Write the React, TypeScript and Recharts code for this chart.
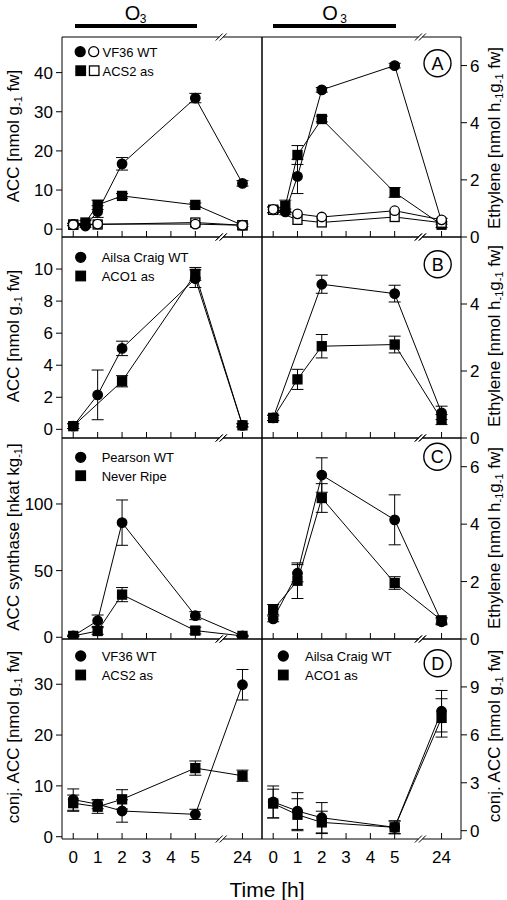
import React from 'react';
import { LineChart, Line, XAxis, YAxis, ErrorBar, ReferenceLine, ReferenceDot } from 'recharts';

const FONT = '"Liberation Sans", Arial, Helvetica, sans-serif';

// ---------- time axis ----------
const TIME_TICKS = [0, 1, 2, 3, 4, 5, 24];
const X_MIN = -0.46;
const X_MAX = 7.73;
const POS24 = 6.93; // position of the 24 h point after the axis break
const BREAK = 6.08;
const xpos = (t: number) => (t === 24 ? POS24 : t);

// ---------- Panel A : ACC (left) ----------
const T_A = [0, 0.5, 1, 2, 5, 24];
const T_A_OPEN_L = [0, 1, 5, 24];
const A_ACC_WT = [1.2, 0.8, 4.5, 16.7, 33.5, 11.7];
const A_ACC_WT_ERR = [0.3, 0.3, 1.5, 1.6, 1.2, 0.7];
const A_ACC_ACS2 = [1.2, 1.7, 6.2, 8.5, 6.2, 1.0];
const A_ACC_ACS2_ERR = [0.3, 0.5, 1.2, 0.6, 0.5, 0.3];
const A_ACC_WT_CTRL = [1.1, 1.3, 1.3, 1.0];
const A_ACC_ACS2_CTRL = [1.1, 1.2, 1.7, 1.0];

// ---------- Panel A : Ethylene (right) ----------
const T_A_OPEN_R = [0, 1, 2, 5, 24];
const A_ETH_WT = [0.95, 0.88, 2.12, 5.15, 6.0, 0.55];
const A_ETH_WT_ERR = [0.1, 0.1, 0.6, 0.08, 0.08, 0.1];
const A_ETH_ACS2 = [0.95, 1.09, 2.87, 4.13, 1.56, 0.43];
const A_ETH_ACS2_ERR = [0.1, 0.2, 0.33, 0.1, 0.17, 0.1];
const A_ETH_WT_CTRL = [0.97, 0.81, 0.7, 0.92, 0.6];
const A_ETH_ACS2_CTRL = [0.95, 0.6, 0.51, 0.7, 0.5];

// ---------- Panel B ----------
const T_B_L_WT = [0, 1, 2, 5, 24];
const B_ACC_WT = [0.2, 2.15, 5.05, 9.4, 0.25];
const B_ACC_WT_ERR = [0.15, 1.55, 0.45, 0.55, 0.1];
const T_B_L_ACO = [0, 2, 5, 24];
const B_ACC_ACO1 = [0.2, 3.0, 9.7, 0.25];
const B_ACC_ACO1_ERR = [0.15, 0.35, 0.4, 0.1];
const T_B_R_WT = [0, 2, 5, 24];
const B_ETH_WT = [0.6, 4.59, 4.31, 0.75];
const B_ETH_WT_ERR = [0.08, 0.27, 0.25, 0.2];
const T_B_R_ACO = [0, 1, 2, 5, 24];
const B_ETH_ACO1 = [0.6, 1.75, 2.74, 2.79, 0.55];
const B_ETH_ACO1_ERR = [0.08, 0.3, 0.35, 0.25, 0.15];

// ---------- Panel C ----------
const T_C = [0, 1, 2, 5, 24];
const C_ACS_WT = [1, 12.4, 86, 16.2, 1];
const C_ACS_WT_ERR = [0.5, 4.3, 17, 3, 0.5];
const C_ACS_NR = [1, 4.7, 32, 5, 1];
const C_ACS_NR_ERR = [0.5, 2.5, 5.3, 2.5, 0.5];
const C_ETH_WT = [0.7, 2.29, 5.71, 4.15, 0.6];
const C_ETH_WT_ERR = [0.1, 0.3, 0.6, 0.87, 0.1];
const C_ETH_NR = [1.02, 2.03, 4.91, 1.95, 0.65];
const C_ETH_NR_ERR = [0.18, 0.62, 0.5, 0.22, 0.1];

// ---------- Panel D ----------
const T_D = [0, 1, 2, 5, 24];
const D_CONJ_WT = [7.3, 6.4, 5.06, 4.4, 29.9];
const D_CONJ_WT_ERR = [2.1, 0.9, 2.2, 1.0, 3.0];
const D_CONJ_ACS2 = [6.6, 5.9, 7.35, 13.5, 12.0];
const D_CONJ_ACS2_ERR = [1.6, 1.3, 1.9, 1.4, 1.1];
const D_CONJ_AC_WT = [1.8, 1.23, 0.81, 0.21, 7.48];
const D_CONJ_AC_WT_ERR = [1.0, 1.15, 0.95, 0.4, 1.3];
const D_CONJ_ACO1 = [1.7, 1.0, 0.52, 0.21, 7.06];
const D_CONJ_ACO1_ERR = [0.9, 1.0, 0.7, 0.4, 1.2];

// ---------- y axis ticks ----------
const A_L_TICKS = [0, 10, 20, 30, 40];
const A_R_TICKS = [0, 2, 4, 6];
const B_L_TICKS = [0, 2, 4, 6, 8, 10];
const B_R_TICKS = [0, 2, 4];
const C_L_TICKS = [0, 50, 100];
const C_R_TICKS = [0, 2, 4, 6];
const D_L_TICKS = [0, 10, 20, 30];
const D_R_TICKS = [0, 3, 6, 9];

type Series = { t: number[]; v: number[]; e?: number[]; shape: 'c' | 's'; filled: boolean };

const toPoints = (s: Series) => s.t.map((t, i) => ({ x: xpos(t), y: s.v[i], err: s.e ? s.e[i] : 0 }));

function Marker({ cx, cy, shape, filled, size = 9.5 }: any) {
  if (cx == null || cy == null || isNaN(cx) || isNaN(cy)) return null;
  const fill = filled ? '#000' : '#fff';
  if (shape === 'c') {
    return <circle cx={cx} cy={cy} r={size / 2} fill={fill} stroke="#000" strokeWidth={1.3} />;
  }
  const s = size - 0.5;
  return <rect x={cx - s / 2} y={cy - s / 2} width={s} height={s} fill={fill} stroke="#000" strokeWidth={1.3} />;
}

const makeXTick = (showLabel: boolean) => (props: any) => {
  const { x, y, payload } = props;
  const label = Math.abs(payload.value - POS24) < 1e-6 ? '24' : String(payload.value);
  return (
    <g>
      <line x1={x} x2={x} y1={y} y2={y - 6} stroke="#000" strokeWidth={1} />
      {showLabel && (
        <text x={x} y={y + 24} textAnchor="middle" fontSize={17} fontFamily={FONT} fill="#000">
          {label}
        </text>
      )}
    </g>
  );
};

const breakShape = (props: any) => {
  const { cx, cy } = props;
  if (cx == null || cy == null) return null;
  return (
    <g>
      <line x1={cx - 6} y1={cy + 3.5} x2={cx + 1} y2={cy - 3.5} stroke="#000" strokeWidth={1} />
      <line x1={cx - 2} y1={cy + 3.5} x2={cx + 5} y2={cy - 3.5} stroke="#000" strokeWidth={1} />
    </g>
  );
};

type PanelProps = {
  side: 'left' | 'right';
  top: number;
  height: number;
  yDomain: [number, number];
  yTicks: number[];
  series: Series[];
  bottom?: boolean;
};

const PAD = 5;
const XH = 30;

function Panel({ side, top, height, yDomain, yTicks, series, bottom }: PanelProps) {
  const isLeft = side === 'left';
  const chartLeft = isLeft ? 0 : 262 - PAD;
  const yW = isLeft ? 40 : 30;
  const plotW = isLeft ? 200 : 199;
  const margin = isLeft
    ? { top: PAD, right: PAD, bottom: 0, left: 22 }
    : { top: PAD, right: 15, bottom: 0, left: PAD };
  const width = margin.left + margin.right + yW + plotW;
  const chartH = PAD + height + XH;
  const [y0, y1] = yDomain;
  const seg = (a: any, b: any, k: string) => (
    <ReferenceLine key={k} segment={[a, b]} stroke="#000" strokeWidth={1} ifOverflow="visible" />
  );
  return (
    <div style={{ position: 'absolute', left: chartLeft, top: top - PAD }}>
      <LineChart width={width} height={chartH} margin={margin}>
        <XAxis
          dataKey="x"
          type="number"
          domain={[X_MIN, X_MAX]}
          allowDataOverflow
          ticks={TIME_TICKS.map(xpos)}
          interval={0}
          axisLine={false}
          tickLine={false}
          tickSize={0}
          tickMargin={0}
          height={XH}
          tick={makeXTick(!!bottom)}
        />
        <YAxis
          type="number"
          orientation={isLeft ? 'left' : 'right'}
          domain={yDomain}
          allowDataOverflow
          ticks={yTicks}
          interval={0}
          axisLine={false}
          tickLine={{ stroke: '#000', strokeWidth: 1 }}
          tickSize={6}
          tickMargin={3}
          width={yW}
          tick={{ fontSize: 17, fill: '#000', fontFamily: FONT }}
        />
        {seg({ x: X_MIN, y: y1 }, { x: BREAK - 0.1, y: y1 }, 't1')}
        {seg({ x: BREAK + 0.06, y: y1 }, { x: X_MAX, y: y1 }, 't2')}
        {seg({ x: X_MIN, y: y0 }, { x: BREAK - 0.1, y: y0 }, 'b1')}
        {seg({ x: BREAK + 0.06, y: y0 }, { x: X_MAX, y: y0 }, 'b2')}
        {seg({ x: X_MIN, y: y0 }, { x: X_MIN, y: y1 }, 'l')}
        {seg({ x: X_MAX, y: y0 }, { x: X_MAX, y: y1 }, 'r')}
        <ReferenceDot x={BREAK} y={y1} r={1} ifOverflow="visible" shape={breakShape} />
        <ReferenceDot x={BREAK} y={y0} r={1} ifOverflow="visible" shape={breakShape} />
        {series.map((s, i) => (
          <Line
            key={i}
            data={toPoints(s)}
            dataKey="y"
            stroke="#000"
            strokeWidth={1}
            isAnimationActive={false}
            activeDot={false}
            dot={(p: any) => (
              <Marker key={`m${i}-${p.index}`} cx={p.cx} cy={p.cy} shape={s.shape} filled={s.filled} />
            )}
          >
            {s.e && (
              <ErrorBar dataKey="err" direction="y" width={6} stroke="#000" strokeWidth={1} isAnimationActive={false} />
            )}
          </Line>
        ))}
      </LineChart>
    </div>
  );
}

// ---------- overlay helpers ----------
function LegendRow({ x, y, items, text, tx }: any) {
  return (
    <g>
      {items.map((it: any, i: number) => (
        <Marker key={i} cx={x + i * 13.5} cy={y} shape={it.shape} filled={it.filled} size={10} />
      ))}
      <text x={tx} y={y + 5} fontSize={13} fontFamily={FONT} fill="#000">
        {text}
      </text>
    </g>
  );
}

function Circled({ x, y, letter }: any) {
  return (
    <g>
      <circle cx={x} cy={y} r={13.5} fill="#fff" stroke="#000" strokeWidth={1.4} />
      <text x={x} y={y + 6.5} textAnchor="middle" fontSize={18} fontFamily={FONT} fill="#000">
        {letter}
      </text>
    </g>
  );
}

function VTitle({ x, y, parts }: any) {
  return (
    <text
      x={x}
      y={y}
      transform={`rotate(-90 ${x} ${y})`}
      textAnchor="middle"
      fontSize={17}
      fontFamily={FONT}
      fill="#000"
    >
      {parts.map((p: any, i: number) =>
        p.sub ? (
          <tspan key={i} fontSize={11} dy={3}>
            {p.t}
          </tspan>
        ) : (
          <tspan key={i} dy={i > 0 && parts[i - 1].sub ? -3 : 0}>
            {p.t}
          </tspan>
        )
      )}
    </text>
  );
}

const ACC_TITLE = [{ t: 'ACC [nmol g' }, { t: '-1', sub: true }, { t: ' fw]' }];
const CONJ_TITLE = [{ t: 'conj. ACC [nmol g' }, { t: '-1', sub: true }, { t: ' fw]' }];
const ACS_TITLE = [{ t: 'ACC synthase [nkat kg' }, { t: '-1', sub: true }, { t: ']' }];
const ETH_TITLE = [
  { t: 'Ethylene [nmol h' },
  { t: '-1', sub: true },
  { t: 'g' },
  { t: '-1', sub: true },
  { t: ' fw]' },
];

export default function App() {
  const C = (t: number[], v: number[], e: number[] | undefined, filled = true): Series => ({ t, v, e, shape: 'c', filled });
  const S = (t: number[], v: number[], e: number[] | undefined, filled = true): Series => ({ t, v, e, shape: 's', filled });

  return (
    <div style={{ position: 'absolute', left: 0, top: 0, width: 507, height: 900, background: '#fff', fontFamily: FONT }}>
      {/* Row A */}
      <Panel
        side="left"
        top={37}
        height={200}
        yDomain={[-2, 49.1]}
        yTicks={A_L_TICKS}
        series={[
          C(T_A, A_ACC_WT, A_ACC_WT_ERR),
          S(T_A, A_ACC_ACS2, A_ACC_ACS2_ERR),
          S(T_A_OPEN_L, A_ACC_ACS2_CTRL, undefined, false),
          C(T_A_OPEN_L, A_ACC_WT_CTRL, undefined, false),
        ]}
      />
      <Panel
        side="right"
        top={37}
        height={200}
        yDomain={[0, 7]}
        yTicks={A_R_TICKS}
        series={[
          C(T_A, A_ETH_WT, A_ETH_WT_ERR),
          S(T_A, A_ETH_ACS2, A_ETH_ACS2_ERR),
          S(T_A_OPEN_R, A_ETH_ACS2_CTRL, undefined, false),
          C(T_A_OPEN_R, A_ETH_WT_CTRL, undefined, false),
        ]}
      />
      {/* Row B */}
      <Panel
        side="left"
        top={237}
        height={201}
        yDomain={[-0.54, 12]}
        yTicks={B_L_TICKS}
        series={[C(T_B_L_WT, B_ACC_WT, B_ACC_WT_ERR), S(T_B_L_ACO, B_ACC_ACO1, B_ACC_ACO1_ERR)]}
      />
      <Panel
        side="right"
        top={237}
        height={201}
        yDomain={[0, 6]}
        yTicks={B_R_TICKS}
        series={[C(T_B_R_WT, B_ETH_WT, B_ETH_WT_ERR), S(T_B_R_ACO, B_ETH_ACO1, B_ETH_ACO1_ERR)]}
      />
      {/* Row C */}
      <Panel
        side="left"
        top={438}
        height={201}
        yDomain={[-1.3, 149.5]}
        yTicks={C_L_TICKS}
        series={[C(T_C, C_ACS_WT, C_ACS_WT_ERR), S(T_C, C_ACS_NR, C_ACS_NR_ERR)]}
      />
      <Panel
        side="right"
        top={438}
        height={201}
        yDomain={[0, 7]}
        yTicks={C_R_TICKS}
        series={[C(T_C, C_ETH_WT, C_ETH_WT_ERR), S(T_C, C_ETH_NR, C_ETH_NR_ERR)]}
      />
      {/* Row D */}
      <Panel
        side="left"
        top={639}
        height={200}
        yDomain={[-0.45, 38.9]}
        yTicks={D_L_TICKS}
        bottom
        series={[C(T_D, D_CONJ_WT, D_CONJ_WT_ERR), S(T_D, D_CONJ_ACS2, D_CONJ_ACS2_ERR)]}
      />
      <Panel
        side="right"
        top={639}
        height={200}
        yDomain={[-0.52, 12]}
        yTicks={D_R_TICKS}
        bottom
        series={[C(T_D, D_CONJ_AC_WT, D_CONJ_AC_WT_ERR), S(T_D, D_CONJ_ACO1, D_CONJ_ACO1_ERR)]}
      />

      <svg width={507} height={900} style={{ position: 'absolute', left: 0, top: 0, pointerEvents: 'none' }}>
        {/* O3 treatment bars */}
        <text x={132.5} y={20} textAnchor="middle" fontSize={20} fontFamily={FONT} fill="#000">O</text>
        <text x={143} y={22.5} textAnchor="middle" fontSize={12} fontFamily={FONT} fill="#000">3</text>
        <rect x={75} y={24} width={122} height={4} fill="#000" />
        <text x={330} y={20} textAnchor="middle" fontSize={20} fontFamily={FONT} fill="#000">O</text>
        <text x={343.5} y={22.5} textAnchor="middle" fontSize={12} fontFamily={FONT} fill="#000">3</text>
        <rect x={273} y={24} width={123} height={4} fill="#000" />

        {/* legends */}
        <LegendRow x={80.2} y={51.7} tx={102.5} text="VF36 WT" items={[{ shape: 'c', filled: true }, { shape: 'c', filled: false }]} />
        <LegendRow x={80.7} y={70.7} tx={102.5} text="ACS2 as" items={[{ shape: 's', filled: true }, { shape: 's', filled: false }]} />
        <LegendRow x={80.7} y={257.3} tx={101.7} text="Ailsa Craig WT" items={[{ shape: 'c', filled: true }]} />
        <LegendRow x={80.7} y={276} tx={101.7} text="ACO1 as" items={[{ shape: 's', filled: true }]} />
        <LegendRow x={80.7} y={457.3} tx={101.7} text="Pearson WT" items={[{ shape: 'c', filled: true }]} />
        <LegendRow x={80.7} y={475.7} tx={101.7} text="Never Ripe" items={[{ shape: 's', filled: true }]} />
        <LegendRow x={80.7} y={656} tx={101.7} text="VF36 WT" items={[{ shape: 'c', filled: true }]} />
        <LegendRow x={80.7} y={675} tx={101.7} text="ACS2 as" items={[{ shape: 's', filled: true }]} />
        <LegendRow x={283.3} y={656} tx={305} text="Ailsa Craig WT" items={[{ shape: 'c', filled: true }]} />
        <LegendRow x={283.3} y={675} tx={305} text="ACO1 as" items={[{ shape: 's', filled: true }]} />

        {/* panel letters */}
        <Circled x={437.5} y={63.3} letter="A" />
        <Circled x={437.7} y={264.3} letter="B" />
        <Circled x={437.3} y={456.7} letter="C" />
        <Circled x={437.7} y={663.3} letter="D" />

        {/* axis titles */}
        <VTitle x={18.5} y={136} parts={ACC_TITLE} />
        <VTitle x={18.5} y={336} parts={ACC_TITLE} />
        <VTitle x={18.5} y={537} parts={ACS_TITLE} />
        <VTitle x={18.5} y={737} parts={CONJ_TITLE} />
        <VTitle x={500} y={138} parts={ETH_TITLE} />
        <VTitle x={500} y={336} parts={ETH_TITLE} />
        <VTitle x={500} y={538} parts={ETH_TITLE} />
        <VTitle x={500} y={736} parts={CONJ_TITLE} />

        <text x={267} y={897} textAnchor="middle" fontSize={21} fontFamily={FONT} fill="#000">
          Time [h]
        </text>
      </svg>
    </div>
  );
}
